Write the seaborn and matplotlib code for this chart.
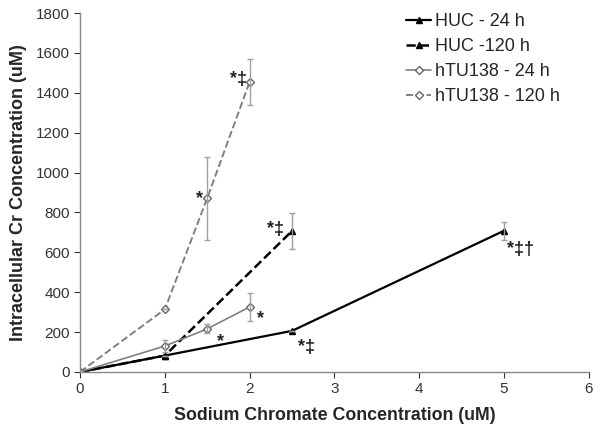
import numpy as np
import pandas as pd
import matplotlib
matplotlib.use("Agg")
import matplotlib.pyplot as plt
import seaborn as sns

# ── Data ────────────────────────────────────────────────────────────────
huc24_x = [0, 1, 2.5, 5]
huc24_y = [0, 82, 206, 708]
huc24_err = [0, 0, 0, 45]

huc120_x = [0, 1, 2.5]
huc120_y = [0, 82, 707]
huc120_err = [0, 0, 90]

htu24_x = [0, 1, 1.5, 2]
htu24_y = [0, 130, 216, 326]
htu24_err = [0, 28, 22, 72]

htu120_x = [0, 1, 1.5, 2]
htu120_y = [0, 314, 872, 1454]
htu120_err = [0, 0, 208, 115]

labels = ["HUC - 24 h", "HUC -120 h", "hTU138 - 24 h", "hTU138 - 120 h"]

# significance marks: (text, x, y)
marks = [("*‡", 1.87, 1465), ("*", 1.41, 870), ("*", 1.66, 150),
         ("*", 2.13, 270), ("*‡", 2.31, 715), ("*‡", 2.67, 125),
         ("*‡†", 5.2, 615)]

sns.set_theme(style="white")
plt.rcParams["font.family"] = ["Liberation Sans", "DejaVu Sans"]

fig = plt.figure(figsize=(6.02, 4.34), dpi=100)
ax = fig.add_axes([0.133, 0.143, 0.845, 0.827])

series = [
    (huc24_x, huc24_y, huc24_err, "black", "-", "^", "black", 1.6),
    (huc120_x, huc120_y, huc120_err, "black", "--", "^", "black", 1.8),
    (htu24_x, htu24_y, htu24_err, "#808080", "-", "D", "white", 1.2),
    (htu120_x, htu120_y, htu120_err, "#808080", "--", "D", "white", 1.4),
]

for (xs, ys, es, col, ls, mk, mfc, lw), lab in zip(series, labels):
    df = pd.DataFrame({"x": xs, "y": ys})
    sns.lineplot(data=df, x="x", y="y", ax=ax, color=col, linestyle=ls,
                 linewidth=lw, marker=mk, markersize=5 if mk == "^" else 4,
                 markerfacecolor=mfc, markeredgecolor=col if mk == "^" else "#666666",
                 markeredgewidth=1, label=lab)
    ax.errorbar(xs, ys, yerr=es, fmt="none", ecolor="#a0a0a0",
                elinewidth=1, capsize=2.5, capthick=1)

for t, x, y in marks:
    ax.text(x, y, t, fontsize=13, fontweight="bold", ha="center",
            va="center", color="#222222")

ax.set_xlim(0, 6)
ax.set_ylim(0, 1800)
ax.set_xticks(range(0, 7))
ax.set_yticks(range(0, 1801, 200))
ax.tick_params(axis="both", labelsize=11, colors="#333333", length=4,
               direction="out", bottom=True, left=True, width=0.8)
for s in ["top", "right"]:
    ax.spines[s].set_visible(False)
for s in ["left", "bottom"]:
    ax.spines[s].set_color("#888888")
    ax.spines[s].set_linewidth(1)

ax.set_xlabel("Sodium Chromate Concentration (uM)", fontsize=12.8,
              fontweight="bold", labelpad=8)
ax.set_ylabel("Intracellular Cr Concentration (uM)", fontsize=13,
              fontweight="bold", labelpad=6)

ax.legend(loc="upper right", frameon=False, fontsize=13, handlelength=1.4,
          handletextpad=0.2, labelspacing=0.45, bbox_to_anchor=(0.975, 1.045))

plt.savefig("out.png", dpi=100)
plt.close()
